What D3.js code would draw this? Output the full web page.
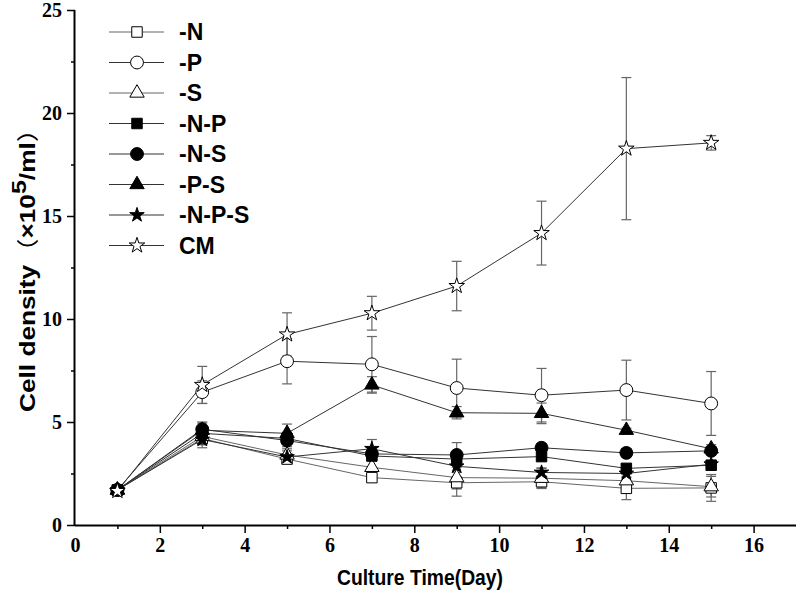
<!DOCTYPE html>
<html><head><meta charset="utf-8">
<script src="https://cdn.jsdelivr.net/npm/d3@7"></script>
<style>body{margin:0;background:#fff}svg{display:block}</style>
</head><body>
<svg id="c" width="798" height="591"></svg>
<script>
const days = [1, 3, 5, 7, 9, 11, 13, 15];
const seriesNames = ["-N", "-P", "-S", "-N-P", "-N-S", "-P-S", "-N-P-S", "CM"];
const valN   = [1.7, 4.2, 3.2, 2.3, 2.05, 2.1, 1.78, 1.8];
const errN   = [0.1, 0.3, 0.15, 0.2, 0.3, 0.3, 0.55, 0.65];
const valP   = [1.7, 6.45, 7.95, 7.8, 6.65, 6.3, 6.55, 5.9];
const errP   = [0.1, 0.55, 1.1, 1.35, 1.4, 1.3, 1.45, 1.55];
const valS   = [1.7, 4.3, 3.4, 2.8, 2.3, 2.27, 2.15, 1.86];
const errS   = [0.1, 0.4, 0.3, 0.3, 0.9, 0.5, 0.3, 0.5];
const valNP  = [1.7, 4.45, 4.2, 3.35, 3.2, 3.32, 2.75, 2.9];
const errNP  = [0.1, 0.3, 0.3, 0.2, 0.2, 0.2, 0.2, 0.2];
const valNS  = [1.7, 4.65, 4.1, 3.45, 3.4, 3.75, 3.5, 3.6];
const errNS  = [0.1, 0.3, 0.3, 0.2, 0.6, 0.2, 0.2, 0.2];
const valPS  = [1.7, 4.6, 4.45, 6.8, 5.45, 5.42, 4.6, 3.7];
const errPS  = [0.1, 0.4, 0.45, 0.4, 0.3, 0.5, 0.1, 0.2];
const valNPS = [1.7, 4.15, 3.3, 3.7, 2.85, 2.55, 2.5, 2.95];
const errNPS = [0.1, 0.4, 0.3, 0.45, 0.3, 0.2, 0.2, 0.2];
const valCM  = [1.65, 6.8, 9.25, 10.28, 11.6, 14.17, 18.27, 18.55];
const errCM  = [0.1, 0.9, 1.05, 0.82, 1.2, 1.55, 3.45, 0.35];
const xTicks = [0, 2, 4, 6, 8, 10, 12, 14, 16];
const yTicks = [0, 5, 10, 15, 20, 25];
const xTitle = "Culture Time(Day)";

const values = [valN, valP, valS, valNP, valNS, valPS, valNPS, valCM];
const errors = [errN, errP, errS, errNP, errNS, errPS, errNPS, errCM];
const shapes = [
  {t: d3.symbolSquare, s: 110, fill: "#fff"},
  {t: d3.symbolCircle, s: 130, fill: "#fff"},
  {t: d3.symbolTriangle, s: 90, fill: "#fff"},
  {t: d3.symbolSquare, s: 110, fill: "#000"},
  {t: d3.symbolCircle, s: 130, fill: "#000"},
  {t: d3.symbolTriangle, s: 90, fill: "#000"},
  {t: d3.symbolStar, s: 65, fill: "#000"},
  {t: d3.symbolStar, s: 75, fill: "#fff"}
];
const lineCol = ["#666", "#333", "#666", "#333", "#333", "#333", "#333", "#333"];

const svg = d3.select("#c");
const x = d3.scaleLinear().domain([0, 17]).range([75, 796]);
const y = d3.scaleLinear().domain([0, 25]).range([525, 10]);

const tickFont = "'Liberation Serif','Times New Roman',serif";
const sansFont = "'Liberation Sans',Arial,sans-serif";

// Axes
const xAxis = d3.axisBottom(x).tickValues(xTicks).tickSize(8).tickPadding(5).tickFormat(d3.format("d"));
const gx = svg.append("g").attr("transform", `translate(0,${y(0)})`).call(xAxis);
gx.selectAll(".tick").filter(d => d === 0).select("line").remove();
svg.append("g").attr("transform", `translate(0,${y(0)})`)
  .call(d3.axisBottom(x).tickValues(d3.range(1, 17, 2)).tickSize(4).tickFormat(""))
  .select(".domain").remove();
const yAxis = d3.axisLeft(y).tickValues(yTicks).tickSize(8).tickPadding(5).tickFormat(d3.format("d"));
const gy = svg.append("g").attr("transform", `translate(${x(0)},0)`).call(yAxis);
svg.append("g").attr("transform", `translate(${x(0)},0)`)
  .call(d3.axisLeft(y).tickValues([2.5, 7.5, 12.5, 17.5, 22.5]).tickSize(4).tickFormat(""))
  .select(".domain").remove();
svg.selectAll(".domain").attr("stroke", "#000").attr("stroke-width", 2);
svg.selectAll(".tick line").attr("stroke", "#000").attr("stroke-width", 1.5);
svg.selectAll(".tick text").attr("font-family", tickFont).attr("font-weight", "bold")
  .attr("font-size", 20).attr("fill", "#000");
gx.selectAll(".domain").attr("d", `M${x(0)},0.5H${x(17)}`);
gy.selectAll(".domain").attr("d", `M-0.5,${y(0)}V${y(25)}`);

// Axis titles
svg.append("text").attr("x", 420).attr("y", 585).attr("text-anchor", "middle")
  .attr("font-family", sansFont).attr("font-weight", "bold").attr("font-size", 22)
  .attr("textLength", 166).attr("lengthAdjust", "spacingAndGlyphs")
  .text(xTitle);
const yt = svg.append("text").attr("transform", "translate(35,264) rotate(-90)")
  .attr("text-anchor", "middle").attr("font-family", sansFont)
  .attr("font-weight", "bold").attr("font-size", 22)
  .attr("textLength", 296).attr("lengthAdjust", "spacingAndGlyphs");
yt.append("tspan").text("Cell density");
yt.append("tspan").attr("font-family", "'Noto Sans CJK SC',sans-serif").attr("font-weight", "normal").text("（");
yt.append("tspan").text("×10");
yt.append("tspan").attr("dy", -9).attr("font-size", 21).text("5");
yt.append("tspan").attr("dy", 9).text("/ml");
yt.append("tspan").attr("font-family", "'Noto Sans CJK SC',sans-serif").attr("font-weight", "normal").text("）");

const plot = svg.append("g");
const line = d3.line().x((d, i) => x(days[i])).y(d => y(d));

// error bars
values.forEach((vals, si) => {
  const g = plot.append("g");
  vals.forEach((v, i) => {
    const e = errors[si][i];
    const cx = x(days[i]);
    g.append("line").attr("x1", cx).attr("x2", cx).attr("y1", y(v - e)).attr("y2", y(v + e))
      .attr("stroke", "#666").attr("stroke-width", 1.2);
    [v - e, v + e].forEach(vv => g.append("line").attr("x1", cx - 5).attr("x2", cx + 5)
      .attr("y1", y(vv)).attr("y2", y(vv)).attr("stroke", "#666").attr("stroke-width", 1.2));
  });
});
// lines
values.forEach((vals, si) => {
  plot.append("path").attr("d", line(vals)).attr("fill", "none")
    .attr("stroke", lineCol[si]).attr("stroke-width", 1);
});
// markers
values.forEach((vals, si) => {
  const sh = shapes[si];
  vals.forEach((v, i) => {
    plot.append("path").attr("d", d3.symbol(sh.t, sh.s)())
      .attr("transform", `translate(${x(days[i])},${y(v)})`)
      .attr("fill", sh.fill).attr("stroke", "#000").attr("stroke-width", 1);
  });
});

// legend
const leg = svg.append("g");
seriesNames.forEach((name, i) => {
  const ly = 32 + i * 30.5;
  leg.append("line").attr("x1", 109).attr("x2", 164).attr("y1", ly).attr("y2", ly)
    .attr("stroke", lineCol[i]).attr("stroke-width", 1);
  const sh = shapes[i];
  leg.append("path").attr("d", d3.symbol(sh.t, sh.s)()).attr("transform", `translate(137,${ly})`)
    .attr("fill", sh.fill).attr("stroke", "#000").attr("stroke-width", 1);
  leg.append("text").attr("x", 179).attr("y", ly + 8).attr("font-family", sansFont)
    .attr("font-weight", "bold").attr("font-size", 23).text(name);
});
</script>
</body></html>
